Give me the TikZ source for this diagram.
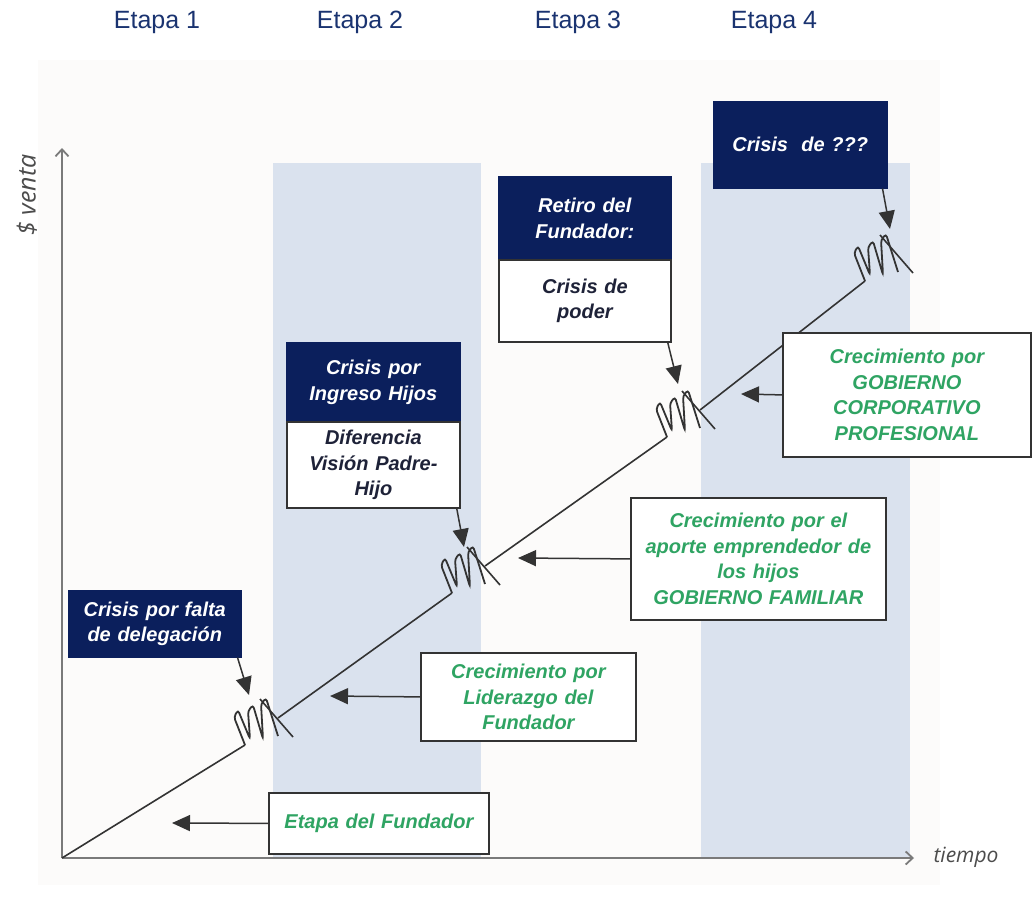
\documentclass[tikz,border=0pt]{standalone}
\usepackage{fontspec}
\setmainfont{Liberation Sans}
\newfontfamily\axfont{Open Sans}
\usetikzlibrary{arrows.meta,calc}
\definecolor{navy}{HTML}{0B1F5C}
\definecolor{etapablue}{HTML}{1A3370}
\definecolor{bandblue}{HTML}{DAE2EE}
\definecolor{panel}{HTML}{FCFBFA}
\definecolor{greentxt}{HTML}{2FA463}
\definecolor{linegray}{HTML}{333333}
\definecolor{axisgray}{HTML}{7A7A7A}
\definecolor{bodytxt}{HTML}{1E2238}
\begin{document}
\begin{tikzpicture}[x=1pt,y=-1pt,
 boxtxt/.style={font=\fontsize{20}{25.5}\selectfont\bfseries\itshape, align=center, inner sep=0pt},
 navybox/.style={boxtxt, fill=navy, text=white, draw=navy, line width=1.5pt, anchor=north west},
 whitebox/.style={boxtxt, fill=white, draw=linegray, line width=1.8pt, anchor=north west},
 bodybox/.style={whitebox, text=bodytxt},
 greenbox/.style={whitebox, text=greentxt},
 pointer/.style={draw=linegray, line width=1.5pt, -{Triangle[length=18pt,width=16pt]}},
 trend/.style={draw=linegray, line width=1.6pt},
 coilline/.style={draw=linegray, line width=1.8pt, rounded corners=3pt},
 axis/.style={draw=axisgray, line width=1.8pt, -{Straight Barb[length=7pt,width=13pt]}},
 etapa/.style={font=\fontsize{25}{30}\selectfont, text=etapablue},
 axlabel/.style={font=\axfont\itshape\fontsize{21}{24}\selectfont, text=black!70},
 coil/.pic={
   \draw[coilline] (0,0) -- (-11,-28) -- (-7,-35) -- (5,-6) -- (3,-34) -- (8,-40) -- (18,-6) -- (16,-41) -- (21,-47) -- (33,-9);
   \draw[trend] (15,-46) -- (48,-8);
   \coordinate (-in) at (0,0);
   \coordinate (-out) at (33,-27);
 }
]
\useasboundingbox (0,0) rectangle (1032,899);
\fill[white] (0,0) rectangle (1032,899);
\fill[panel] (38,60) rectangle (940,885);
\fill[bandblue] (273,163) rectangle (481,858);
\fill[bandblue] (701,163) rectangle (910,858);

% stage labels
\node[etapa] (e1) at (157,22) {Etapa 1};
\node[etapa] (e2) at (360,22) {Etapa 2};
\node[etapa] (e3) at (578,22) {Etapa 3};
\node[etapa] (e4) at (774,22) {Etapa 4};

% axes
\coordinate (O) at (62,858);
\coordinate (ytop) at (62,148);
\coordinate (xend) at (914,858);
\draw[axis] (O) -- (ytop);
\draw[axis] (O) -- (xend);
\node[axlabel, font=\axfont\itshape\fontsize{25}{28}\selectfont, rotate=90] (yl) at (27,195) {\$ venta};
\node[axlabel, anchor=west] (xl) at (930,857) {tiempo};

% coils
\pic (c1) at (245,745) {coil};
\pic (c2) at (452,593) {coil};
\pic (c3) at (667,437) {coil};
\pic (c4) at (865,281) {coil};

% trend line
\draw[trend] (O) -- (c1-in);
\draw[trend] (c1-out) -- (c2-in);
\draw[trend] (c2-out) -- (c3-in);
\draw[trend] (c3-out) -- (c4-in);

% crisis boxes
\node[navybox, minimum width=172pt, minimum height=66pt, text width=166pt] (deleg) at (68,590) {Crisis por falta\\de delegación};
\node[navybox, minimum width=173pt, minimum height=79pt, text width=167pt] (ingH) at (286,342) {Crisis por\\Ingreso Hijos};
\node[bodybox, minimum width=173pt, minimum height=86pt, text width=167pt] (ingB) at (286,421) {Diferencia\\Visión Padre-\\Hijo};
\node[navybox, minimum width=172pt, minimum height=83pt, text width=166pt] (retH) at (498,176) {Retiro del\\Fundador:};
\node[bodybox, minimum width=172pt, minimum height=82pt, text width=166pt] (retB) at (498,259) {Crisis de\\poder};
\node[navybox, minimum width=173pt, minimum height=86pt, text width=167pt] (qqq) at (713,101) {Crisis\ \ de ???};

% growth boxes
\node[greenbox, minimum width=220pt, minimum height=61pt, text width=212pt] (fund) at (268,792) {Etapa del Fundador};
\node[greenbox, minimum width=215pt, minimum height=88pt, text width=207pt] (lider) at (420,652) {Crecimiento por\\Liderazgo del\\Fundador};
\node[greenbox, minimum width=255pt, minimum height=122pt, text width=247pt] (aporte) at (630,497) {Crecimiento por el\\aporte emprendedor de\\los hijos\\GOBIERNO FAMILIAR};
\node[greenbox, minimum width=248pt, minimum height=124pt, text width=240pt] (corp) at (782,332) {Crecimiento por\\GOBIERNO\\CORPORATIVO\\PROFESIONAL};

% crisis arrows
\coordinate (a1) at (249,695);
\coordinate (a2) at (464,547);
\coordinate (a3) at (678,384);
\coordinate (a4) at (890,229);
\draw[pointer] ([xshift=-4pt]deleg.south east) -- (a1);
\draw[pointer] ([xshift=-4pt]ingB.south east) -- (a2);
\draw[pointer] ([xshift=-4pt]retB.south east) -- (a3);
\draw[pointer] ([xshift=-5pt]qqq.south east) -- (a4);

% growth arrows
\coordinate (g1) at (172,823);
\coordinate (g2) at (330,696);
\coordinate (g3) at (518,558);
\coordinate (g4) at (741,394);
\draw[pointer] (fund.west) -- (g1);
\draw[pointer] (lider.west) -- (g2);
\draw[pointer] (aporte.west) -- (g3);
\draw[pointer] (corp.west) -- (g4);
\end{tikzpicture}
\end{document}
